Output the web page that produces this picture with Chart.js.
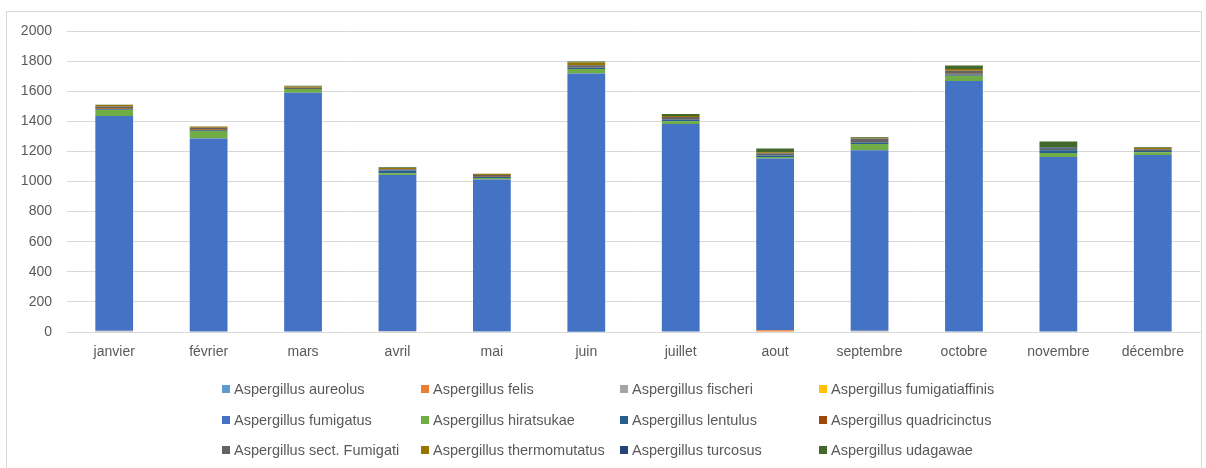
<!DOCTYPE html>
<html lang="fr">
<head>
<meta charset="utf-8">
<script src="https://cdn.jsdelivr.net/npm/chart.js@4.4.1/dist/chart.umd.min.js"></script>
<style>
  body { margin: 0; background: #fff; font-family: "Liberation Sans", Arial, sans-serif; }
  #cadre { position: absolute; left: 6px; top: 11px; width: 1196px; height: 470px; border: 1px solid #d9d9d9; box-sizing: border-box; }
  #zone { position: absolute; left: 0; top: 0; width: 1206px; height: 372px; }
  #legende { position: absolute; left: 0; top: 0; width: 1206px; height: 468px; pointer-events: none; }
  .item { position: absolute; font-size: 14.5px; color: #595959; white-space: nowrap; line-height: 16px; }
  .item span.carre { display: inline-block; width: 8px; height: 8px; margin-right: 4px; vertical-align: 1px; }
</style>
</head>
<body>
<div id="cadre"></div>
<div id="zone"><canvas id="graphique"></canvas></div>
<div id="legende"></div>
<script>
// 1. DONNÉES
const mois = ['janvier', 'février', 'mars', 'avril', 'mai', 'juin', 'juillet', 'aout', 'septembre', 'octobre', 'novembre', 'décembre'];

const aureolus        = [0, 0, 0, 0, 0, 2, 0, 0, 0, 0, 0, 0];
const felis           = [0, 0, 0, 0, 0, 0, 0, 12, 0, 0, 0, 0];
const fischeri        = [8, 0, 0, 6, 0, 0, 0, 0, 8, 0, 0, 0];
const fumigatiaffinis = [0, 0, 0, 0, 0, 0, 0, 0, 0, 0, 0, 0];
const fumigatus       = [1427, 1285, 1590, 1037, 1014, 1715, 1382, 1140, 1200, 1668, 1163, 1176];
const hiratsukae      = [42, 50, 25, 12, 10, 30, 18, 10, 42, 35, 27, 18];
const lentulus        = [4, 6, 0, 18, 8, 8, 10, 10, 8, 8, 18, 8];
const quadricinctus   = [5, 6, 0, 0, 4, 3, 0, 0, 0, 5, 0, 0];
const sectFumigati    = [12, 10, 8, 8, 8, 15, 18, 15, 28, 20, 10, 12];
const thermomutatus   = [10, 8, 8, 8, 8, 17, 8, 8, 5, 12, 0, 8];
const turcosus        = [0, 0, 0, 0, 0, 0, 0, 0, 0, 0, 8, 0];
const udagawae        = [2, 0, 6, 5, 0, 8, 12, 25, 5, 22, 40, 5];

const yTicks = [0, 200, 400, 600, 800, 1000, 1200, 1400, 1600, 1800, 2000];

// 2. SÉRIES (ordre Excel : la première série en bas de la pile)
const series = [
    { label: 'Aspergillus aureolus', data: aureolus, color: '#5B9BD5' },
    { label: 'Aspergillus felis', data: felis, color: '#ED7D31' },
    { label: 'Aspergillus fischeri', data: fischeri, color: '#A5A5A5' },
    { label: 'Aspergillus fumigatiaffinis', data: fumigatiaffinis, color: '#FFC000' },
    { label: 'Aspergillus fumigatus', data: fumigatus, color: '#4472C4' },
    { label: 'Aspergillus hiratsukae', data: hiratsukae, color: '#70AD47' },
    { label: 'Aspergillus lentulus', data: lentulus, color: '#255E91' },
    { label: 'Aspergillus quadricinctus', data: quadricinctus, color: '#9E480E' },
    { label: 'Aspergillus sect. Fumigati', data: sectFumigati, color: '#636363' },
    { label: 'Aspergillus thermomutatus', data: thermomutatus, color: '#997300' },
    { label: 'Aspergillus turcosus', data: turcosus, color: '#264478' },
    { label: 'Aspergillus udagawae', data: udagawae, color: '#43682B' }
];

const police = { family: '"Liberation Sans", Arial, sans-serif', size: 14 };

// 3. GRAPHIQUE
const ctx = document.getElementById('graphique').getContext('2d');
const graphique = new Chart(ctx, {
    type: 'bar',
    data: {
        labels: mois,
        datasets: series.map(s => ({
            label: s.label,
            data: s.data,
            backgroundColor: s.color,
            borderWidth: 0,
            categoryPercentage: 1,
            barPercentage: 0.4
        }))
    },
    options: {
        responsive: true,
        maintainAspectRatio: false,
        animation: false,
        layout: { padding: { top: 31, right: 6, left: 0, bottom: 0 } },
        plugins: { legend: { display: false }, tooltip: { enabled: false } },
        scales: {
            x: {
                stacked: true,
                grid: { display: false, drawTicks: false },
                border: { display: true, color: '#d9d9d9' },
                ticks: { color: '#595959', font: police, padding: 12, maxRotation: 0 },
                afterFit: scale => { scale.height = 40; }
            },
            y: {
                stacked: true,
                min: 0, max: 2000,
                afterBuildTicks: scale => { scale.ticks = yTicks.map(v => ({ value: v })); },
                grid: { color: '#d9d9d9', drawTicks: false },
                border: { display: false },
                ticks: { color: '#595959', font: police, padding: 15, callback: v => String(v) },
                afterFit: scale => { scale.width = 67; }
            }
        }
    }
});

// 4. LÉGENDE (grille 4 colonnes comme Excel)
const legende = document.getElementById('legende');
graphique.data.datasets.forEach((ds, i) => {
    const item = document.createElement('div');
    item.className = 'item';
    item.style.left = (222 + (i % 4) * 199) + 'px';
    item.style.top = (381 + Math.floor(i / 4) * 30.5) + 'px';
    const carre = document.createElement('span');
    carre.className = 'carre';
    carre.style.background = ds.backgroundColor;
    item.appendChild(carre);
    item.appendChild(document.createTextNode(ds.label));
    legende.appendChild(item);
});
</script>
</body>
</html>
